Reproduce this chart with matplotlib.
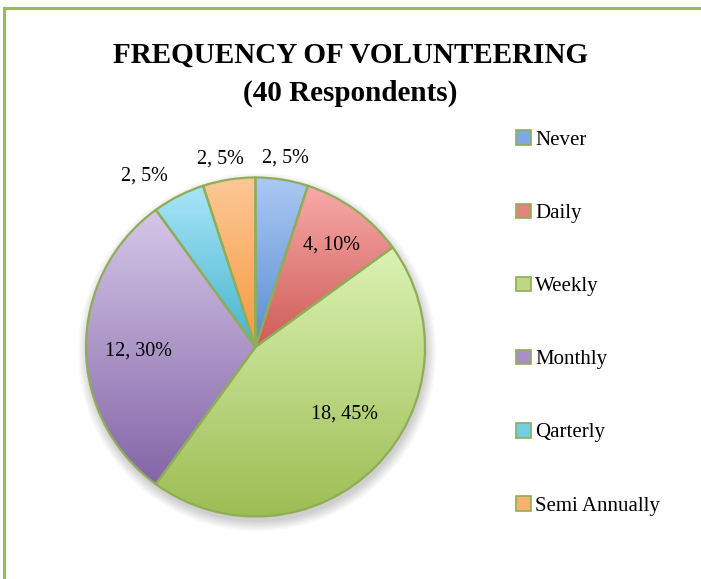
import numpy as np
import matplotlib.pyplot as plt
from matplotlib.colors import LinearSegmentedColormap
from matplotlib.patches import Patch
from matplotlib.lines import Line2D

# datos del grafico
categorias = ["Never", "Daily", "Weekly", "Monthly", "Qarterly", "Semi Annually"]
valores = [2, 4, 18, 12, 2, 2]
porcentajes = [5, 10, 45, 30, 5, 5]

# colores (arriba claro, abajo oscuro)
color_arriba = ["#abc9f4", "#f7aaa9", "#dbf2b3", "#d5c7e8", "#a8e5f8", "#fdc897"]
color_abajo = ["#5a8dcf", "#cf5c57", "#9dbd53", "#8465a7", "#47b4cd", "#f59a3e"]
color_medio = ["#7fa9e0", "#e2837e", "#bcd885", "#a98fc6", "#74cde3", "#f8b26b"]
verde_borde = "#8fad57"

plt.rcParams['font.family'] = ['Liberation Serif', 'DejaVu Serif']

fig = plt.figure(figsize=(7.01, 5.79), dpi=100)

# marco verde (arriba e izquierda)
fig.add_artist(Line2D([3.5 / 701, 1], [1 - 7.5 / 579, 1 - 7.5 / 579], color="#9bbb59", lw=2.2))
fig.add_artist(Line2D([3.5 / 701, 3.5 / 701], [0, 1 - 7.5 / 579], color="#9bbb59", lw=2.2))

ax = fig.add_axes([0.0743, 0.0494, 0.5803, 0.7026])
ax.set_xlim(-1.2, 1.2)
ax.set_ylim(-1.2, 1.2)
ax.set_aspect("equal")
ax.axis("off")

# sombra suave debajo del pie
for k in range(8):
    sombra = plt.Circle((0.01, -0.03), 1.0 + 0.008 * k, color="black", alpha=0.025, lw=0, zorder=0)
    ax.add_patch(sombra)

wedges, _ = ax.pie(valores, startangle=90, counterclock=False, radius=1.0,
                   wedgeprops=dict(edgecolor=verde_borde, linewidth=1.6))

for i, w in enumerate(wedges):
    w.set_facecolor("none")
    w.set_zorder(3)
    verts = w.get_path().vertices
    ymin, ymax = verts[:, 1].min(), verts[:, 1].max()
    xmin, xmax = verts[:, 0].min(), verts[:, 0].max()
    cmap = LinearSegmentedColormap.from_list("g%d" % i, [color_abajo[i], color_arriba[i]])
    grad = np.linspace(0, 1, 256).reshape(-1, 1)
    im = ax.imshow(grad, cmap=cmap, origin="lower", aspect="auto",
                   extent=[xmin, xmax, ymin, ymax], zorder=2)
    im.set_clip_path(w)

ax.set_xlim(-1.2, 1.2)
ax.set_ylim(-1.2, 1.2)

# etiquetas de datos
distancias = [1.13, 0.75, 0.66, 0.69, 1.2, 1.13]
desfase = [0, -1, 8, 2, 6, 1.5]
total = sum(valores)
angulo = 90.0
for i, v in enumerate(valores):
    barrido = 360.0 * v / total
    medio = angulo - barrido / 2 + desfase[i]
    angulo -= barrido
    x = distancias[i] * np.cos(np.radians(medio))
    y = distancias[i] * np.sin(np.radians(medio))
    ax.text(x, y, f"{v}, {porcentajes[i]}%", ha="center", va="center", fontsize=14.5, zorder=5)

# titulo
fig.text(0.5, 1 - 55 / 579, "FREQUENCY OF VOLUNTEERING", ha="center", va="center",
         fontsize=21, fontweight="bold")
fig.text(0.5, 1 - 93 / 579, "(40 Respondents)", ha="center", va="center",
         fontsize=21, fontweight="bold")

# leyenda
handles = [Patch(facecolor=color_medio[i], edgecolor=verde_borde, linewidth=1.2)
           for i in range(len(categorias))]
fig.legend(handles, categorias, loc="upper left", bbox_to_anchor=(506 / 701, 1 - 120 / 579),
           frameon=False, fontsize=15, handlelength=0.7, handleheight=0.7,
           handletextpad=0.2, labelspacing=2.57, borderpad=0)

fig.savefig("out.png", dpi=100)
